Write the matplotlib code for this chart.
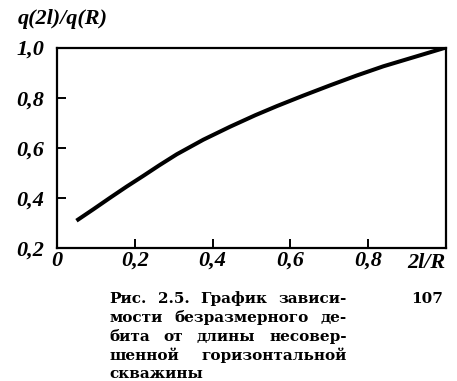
import matplotlib
matplotlib.use("Agg")
import matplotlib.pyplot as plt
import matplotlib.transforms as mtransforms

# curve
ratio_2l_R = [0.05, 0.093, 0.136, 0.179, 0.222, 0.263, 0.308, 0.376, 0.445,
              0.51, 0.565, 0.633, 0.702, 0.77, 0.839, 0.925, 1.0]
q_ratio = [0.309, 0.354, 0.400, 0.445, 0.488, 0.530, 0.574, 0.632, 0.684,
           0.730, 0.766, 0.808, 0.849, 0.888, 0.925, 0.965, 1.0]

x_ticks = [0, 0.2, 0.4, 0.6, 0.8, 1.0]
x_labels = ["0", "0,2", "0,4", "0,6", "0,8", ""]
y_ticks = [0.2, 0.4, 0.6, 0.8, 1.0]
y_labels = ["0,2", "0,4", "0,6", "0,8", "1,0"]

caption_lines = [
    "Рис. 2.5. График зависи-",
    "мости безразмерного де-",
    "бита от длины несовер-",
    "шенной горизонтальной",
    "скважины",
]
page_number = "107"

W, H = 457, 381
fig = plt.figure(figsize=(W / 100, H / 100), dpi=100)
ax = fig.add_axes([57 / W, 1 - 248 / H, (446 - 57) / W, (248 - 47.5) / H])

ax.plot(ratio_2l_R, q_ratio, color="black", lw=2.9, solid_capstyle="butt",
        solid_joinstyle="round")
ax.set_xlim(0, 1)
ax.set_ylim(0.2, 1.0)

tick_font = dict(family="Liberation Serif", weight="bold", style="italic", size=16)
ax.set_xticks(x_ticks)
ax.set_xticklabels(x_labels, fontdict=tick_font)
ax.set_yticks(y_ticks)
ax.set_yticklabels(y_labels, fontdict=tick_font)
ax.tick_params(direction="in", length=6.5, width=1.4, color="black")
ax.tick_params(axis="x", pad=2)
ax.tick_params(axis="y", pad=9)
for s in ax.spines.values():
    s.set_linewidth(1.6)

xlab = mtransforms.blended_transform_factory(ax.transAxes, ax.transAxes)
ax.text(1.0, -0.025, "2l/R", transform=xlab, ha="right", va="top", **tick_font)
fig.text(18 / W, 1 - 19 / H, "q(2l)/q(R)", ha="left", va="center", **tick_font)

# justified caption block
cap_font = dict(family="DejaVu Serif", weight="bold", size=11, color="black")
left, right = 109, 347
baselines = [303, 322, 341, 360, 378]
renderer = fig.canvas.get_renderer()
for i, line in enumerate(caption_lines):
    words = line.split()
    objs = [fig.text(0, 1 - baselines[i] / H, w, ha="left", va="baseline", **cap_font) for w in words]
    widths = [o.get_window_extent(renderer).width for o in objs]
    last = i == len(caption_lines) - 1
    if last or len(words) == 1:
        gap = 6
    else:
        gap = (right - left - sum(widths)) / (len(words) - 1)
    x = left
    for o, wdt in zip(objs, widths):
        o.set_x(x / W)
        x += wdt + gap

fig.text(443 / W, 1 - 303 / H, page_number, ha="right", va="baseline", **cap_font)

fig.savefig("out.png", dpi=100)
